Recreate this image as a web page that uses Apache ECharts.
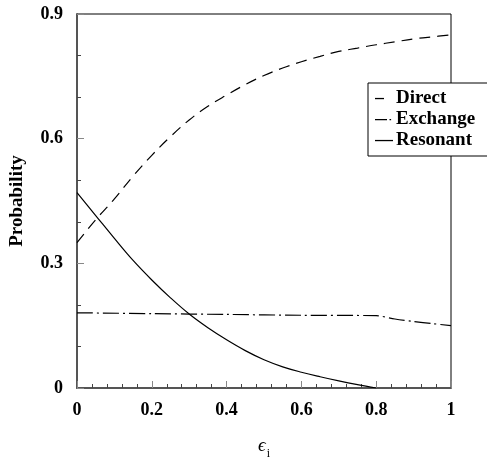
<!DOCTYPE html>
<html>
<head>
<meta charset="utf-8">
<script src="https://cdn.jsdelivr.net/npm/echarts@6/dist/echarts.min.js"></script>
<style>
    html, body { margin: 0; padding: 0; background: #fff; }
    #chart { width: 487px; height: 460px; }
</style>
</head>
<body>
<div id="chart"></div>
<script>
'use strict';

// values
const epsilon = [0, 0.05, 0.1, 0.15, 0.2, 0.25, 0.3, 0.35, 0.4, 0.45, 0.5,
    0.55, 0.6, 0.65, 0.7, 0.75, 0.8, 0.85, 0.9, 0.95, 1];
const direct = [0.35, 0.405, 0.455, 0.51, 0.56, 0.605, 0.645, 0.678, 0.705, 0.73, 0.752,
    0.77, 0.785, 0.798, 0.81, 0.818, 0.826, 0.833, 0.84, 0.845, 0.85];
const resonant = [0.47, 0.415, 0.36, 0.307, 0.26, 0.217, 0.178, 0.145, 0.116, 0.09, 0.068,
    0.051, 0.038, 0.027, 0.017, 0.008, 0];
const exchangeX = [0, 0.2, 0.4, 0.6, 0.8, 0.85, 0.9, 0.95, 1];
const exchange = [0.181, 0.179, 0.177, 0.175, 0.174, 0.166, 0.16, 0.155, 0.15];
const xTicks = [0, 0.2, 0.4, 0.6, 0.8, 1];
const yTicks = [0, 0.3, 0.6, 0.9];

const serif = '"Liberation Serif", "DejaVu Serif", serif';

// legend samples: short dash, dash-dot, full line (corner moves keep the box 18x12)
const legendIcons = {
    Direct: 'path://M0,0M18,12M0,5.4h9v1.3h-9z',
    Exchange: 'path://M0,0M18,12M0,5.4h12v1.3h-12zM14.5,5.4h1.6v1.3h-1.6z',
    Resonant: 'path://M0,0M18,12M0,5.4h18v1.3h-18z'
};

function pairs(xs, ys) {
    return ys.map((y, i) => [xs[i], y]);
}

const chart = echarts.init(document.getElementById('chart'), null, {renderer: 'canvas'});

chart.setOption({
    animation: false,
    backgroundColor: '#fff',
    textStyle: {fontFamily: serif},
    grid: {
        left: 77, right: 36, top: 14, bottom: 72,
        outerBoundsMode: 'none',
        show: true, borderColor: '#000', borderWidth: 1
    },
    legend: {
        orient: 'vertical',
        left: 368, top: 83,
        padding: [6, 40, 6, 7],
        itemGap: 2,
        itemWidth: 18, itemHeight: 12,
        backgroundColor: '#fff',
        borderColor: '#000', borderWidth: 1,
        textStyle: {fontFamily: serif, fontSize: 19, fontWeight: 'bold', color: '#000', padding: [0, 0, 0, -2]},
        data: ['Direct', 'Exchange', 'Resonant'].map(n => ({name: n, icon: legendIcons[n]}))
    },
    xAxis: {
        type: 'value',
        min: xTicks[0], max: xTicks[xTicks.length - 1], interval: 0.2,
        name: '{e|ϵ}{s|i}',
        nameLocation: 'middle',
        nameGap: 44,
        nameTextStyle: {
            rich: {
                e: {fontFamily: serif, fontSize: 19, fontStyle: 'italic', color: '#000'},
                s: {fontFamily: serif, fontSize: 12, color: '#000', padding: [16, 0, 0, 1]}
            }
        },
        axisLine: {lineStyle: {color: '#555', width: 2}},
        axisTick: {inside: true, length: 7, lineStyle: {color: '#888', width: 1}},
        minorTick: {show: true, splitNumber: 5, length: 4, lineStyle: {color: '#444'}},
        splitLine: {show: false},
        axisLabel: {margin: 13, fontFamily: serif, fontSize: 18, fontWeight: 'bold', color: '#000'}
    },
    yAxis: {
        type: 'value',
        min: yTicks[0], max: yTicks[yTicks.length - 1], interval: 0.3,
        name: 'Probability',
        nameLocation: 'middle',
        nameGap: 50,
        nameTextStyle: {fontFamily: serif, fontSize: 19, fontWeight: 'bold', color: '#000'},
        axisLine: {lineStyle: {color: '#555', width: 2}},
        axisTick: {inside: true, length: 7, lineStyle: {color: '#888', width: 1}},
        minorTick: {show: true, splitNumber: 3, length: 4, lineStyle: {color: '#444'}},
        splitLine: {show: false},
        axisLabel: {margin: 14, fontFamily: serif, fontSize: 18, fontWeight: 'bold', color: '#000'}
    },
    series: [{
        name: 'Direct',
        type: 'line',
        smooth: 0.4,
        symbol: 'none',
        lineStyle: {color: '#000', width: 1.2, type: [11, 7]},
        itemStyle: {color: '#000'},
        data: pairs(epsilon, direct)
    }, {
        name: 'Exchange',
        type: 'line',
        smooth: 0.3,
        symbol: 'none',
        lineStyle: {color: '#000', width: 1.2, type: [16, 4, 2, 4]},
        itemStyle: {color: '#000'},
        data: pairs(exchangeX, exchange)
    }, {
        name: 'Resonant',
        type: 'line',
        smooth: 0.4,
        symbol: 'none',
        lineStyle: {color: '#000', width: 1.2},
        itemStyle: {color: '#000'},
        data: pairs(epsilon, resonant)
    }]
});
</script>
</body>
</html>
